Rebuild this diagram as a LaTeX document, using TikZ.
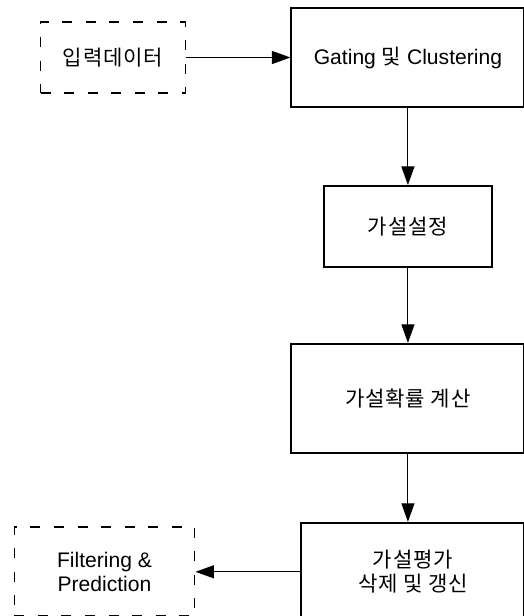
\documentclass[tikz,border=0pt]{standalone}
\usepackage{fontspec}
\setmainfont{Liberation Sans}
\newfontfamily\kr[LetterSpace=4]{Noto Sans CJK KR}
\usetikzlibrary{positioning,arrows.meta}

\begin{document}
\begin{tikzpicture}[node distance=1.5cm, every node/.style={font=\fontsize{12}{13.5}\selectfont},
    block/.style={draw,line width=1.1pt,align=center},
    dashbox/.style={draw,line width=1.1pt,dash pattern=on 0.2cm off 0.27cm,align=center},
    flow/.style={-{Triangle[length=3.7mm,width=2.6mm]},line width=0.6pt}]
  \useasboundingbox (0,0) rectangle (10.48,-12.32);
  \node[dashbox,minimum width=2.9cm,minimum height=1.42cm] (inp) at (2.26,-1.15) {{\kr 입력데이터}};
  \node[block,minimum width=4.66cm,minimum height=1.98cm,right=2.08cm of inp] (gate) {Gating {\kr 및} Clustering};
  \node[block,minimum width=3.36cm,minimum height=1.62cm,below=1.54cm of gate] (hset) {{\kr 가설설정}};
  \node[block,minimum width=4.66cm,minimum height=2.18cm,below=1.5cm of hset] (hprob) {{\kr 가설확률 계산}};
  \node[block,minimum width=4.46cm,minimum height=1.96cm,below=1.36cm of hprob,xshift=0.1cm] (heval) {{\kr 가설평가}\\{\kr 삭제 및 갱신}};
  \node[dashbox,minimum width=3.6cm,minimum height=1.78cm,left=2.1cm of heval] (filt) {Filtering \&\\Prediction};
  \draw[flow] (inp) -- (gate);
  \draw[flow] (gate) -- (hset);
  \draw[flow] (hset) -- (hprob);
  \draw[flow] (hprob.south) -- (hprob.south |- heval.north);
  \draw[flow] (heval) -- (filt);
\end{tikzpicture}
\end{document}
